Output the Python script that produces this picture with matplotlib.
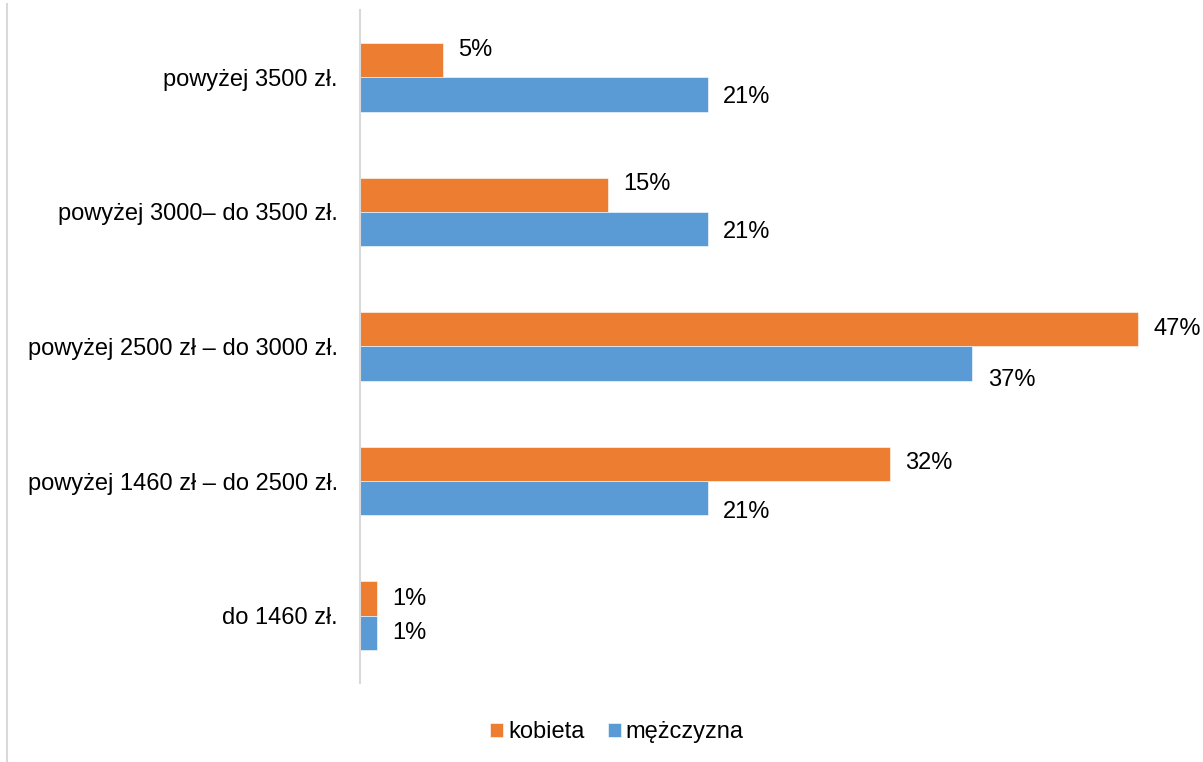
import matplotlib
matplotlib.use("Agg")
import matplotlib.pyplot as plt
from matplotlib.lines import Line2D
import numpy as np

plt.rcParams['font.family'] = ['Liberation Sans', 'DejaVu Sans']

categories = ["powyżej 3500 zł.", "powyżej 3000– do 3500 zł.",
              "powyżej 2500 zł – do 3000 zł.", "powyżej 1460 zł – do 2500 zł.",
              "do 1460 zł."]
kobieta = [5, 15, 47, 32, 1]
mezczyzna = [21, 21, 37, 21, 1]

# label nudges in points (layout only)
k_dy = [7, 8, 0, 1, 0]
m_dy = [-2, -2, -12, -10, 0]

ORANGE = '#ED7D31'
BLUE = '#5B9BD5'
FS = 17

fig = plt.figure(figsize=(12.03, 7.62), dpi=100)
ax = fig.add_axes([360 / 1203, 1 - 683 / 762, 830 / 1203, 673 / 762])

y = np.arange(len(categories))
h = 0.255
b1 = ax.barh(y - h / 2, kobieta, height=h, color=ORANGE, edgecolor='white', linewidth=0.4, label='kobieta')
b2 = ax.barh(y + h / 2, mezczyzna, height=h, color=BLUE, edgecolor='white', linewidth=0.4, label='mężczyzna')

for bar, v, dy in zip(b1, kobieta, k_dy):
    ax.annotate(f"{v}%", (bar.get_width(), bar.get_y() + bar.get_height() / 2),
                xytext=(11, dy), textcoords='offset points', va='center', ha='left',
                fontsize=FS, color='#000000')
for bar, v, dy in zip(b2, mezczyzna, m_dy):
    ax.annotate(f"{v}%", (bar.get_width(), bar.get_y() + bar.get_height() / 2),
                xytext=(11, dy), textcoords='offset points', va='center', ha='left',
                fontsize=FS, color='#000000')

ax.set_xlim(0, 50.15)
ax.set_ylim(4.5, -0.5)
ax.set_yticks(y)
ax.set_yticklabels(categories, fontsize=FS)
ax.tick_params(axis='y', length=0, pad=16)
ax.set_xticks([])
for s in ['top', 'right', 'bottom']:
    ax.spines[s].set_visible(False)
ax.spines['left'].set_color('#d9d9d9')
ax.spines['left'].set_linewidth(1.5)

fig.legend(loc='center', bbox_to_anchor=(617 / 1203, 1 - 732 / 762), ncol=2, frameon=False,
           fontsize=FS, handlelength=0.55, handleheight=0.55, handletextpad=0.2,
           columnspacing=1.0)

fig.add_artist(Line2D([7 / 1203, 7 / 1203], [0, 1 - 4 / 762], color='#d9d9d9', linewidth=1.5))

fig.savefig("out.png", dpi=100)
